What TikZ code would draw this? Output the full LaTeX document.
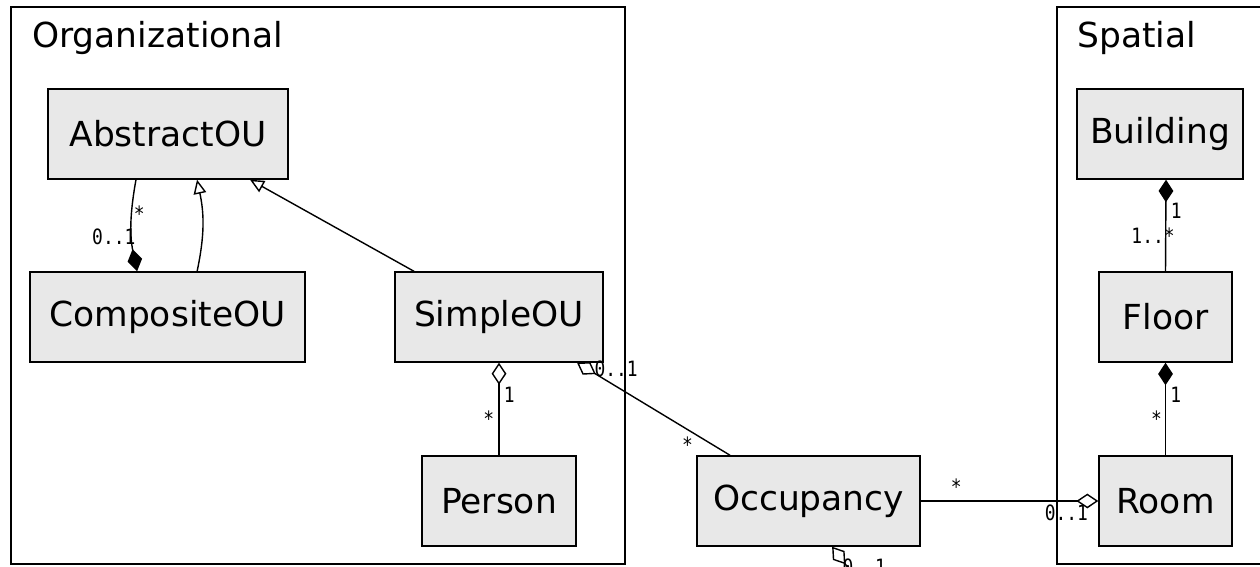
\documentclass[tikz,border=0pt]{standalone}
\usepackage{fontspec}
\setmainfont{DejaVu Sans}
\newfontfamily\multfont[FakeStretch=0.85]{DejaVu Sans Mono}
\definecolor{class-fill}{HTML}{E8E8E8}
\usetikzlibrary{arrows.meta,positioning}

\begin{document}
\begin{tikzpicture}[x=0.025cm, y=-0.025cm,
  cls/.style={rectangle, draw=black, fill=class-fill, line width=1pt,
              minimum height=2.25cm, inner sep=0pt, font=\fontsize{24.5}{29}\selectfont},
  pkg/.style={draw=black, line width=1pt},
  pkgname/.style={anchor=base west, inner sep=0pt, font=\fontsize{24.5}{29}\selectfont},
  mult/.style={inner sep=1pt, font=\multfont\fontsize{15}{17}\selectfont},
  assoc/.style={line width=1pt},
  compo/.style={assoc, {Diamond[length=16pt, width=10.5pt]}-},
  aggr/.style={assoc, {Diamond[open, length=15.6pt, width=10.5pt]}-},
  gen/.style={assoc, -{Triangle[open, length=10pt, width=9pt]}}]

  \useasboundingbox (0,0) rectangle (1260,566);
  \clip (0,0) rectangle (1260,566);

  % packages
  \draw[pkg] (11,7) rectangle (625,564);
  \draw[pkg] (1057,7) rectangle (1300,564);
  \node[pkgname] (orgname) at (32,47) {Organizational};
  \node[pkgname] (spatname) at (1077,47) {Spatial};

  % classes
  \node[cls, minimum width=6cm]    (abstract)  at (168,134)   {AbstractOU};
  \node[cls, minimum width=6.875cm] (composite) at (167.5,317) {CompositeOU};
  \node[cls, minimum width=5.2cm]  (simple)    at (499,317)   {SimpleOU};
  \node[cls, minimum width=3.85cm] (person)    at (499,501)   {Person};
  \node[cls, minimum width=5.575cm] (occupancy) at (808.5,501) {Occupancy};
  \node[cls, minimum width=4.15cm] (building)  at (1160,134)  {Building};
  \node[cls, minimum width=3.325cm] (floor)    at (1165.5,317) {Floor};
  \node[cls, minimum width=3.325cm] (room)     at (1165.5,501) {Room};
  \coordinate (offpage) at (880,610);

  % organizational
  \draw[compo] ([xshift=-0.76cm]composite.north) to[bend left=11]
    node[mult, pos=0.37, anchor=east, xshift=4pt] {0..1}
    node[mult, pos=0.64, anchor=west] {*}
    ([xshift=-0.8cm]abstract.south);
  \draw[gen] ([xshift=0.74cm]composite.north) to[bend right=12] ([xshift=0.725cm]abstract.south);
  \draw[gen] ([xshift=-2.125cm]simple.north) -- ([xshift=2.05cm]abstract.south);
  \draw[aggr] (simple.south) --
    node[mult, pos=0.35, anchor=west, xshift=2pt] {1}
    node[mult, pos=0.6, anchor=east, xshift=-2pt] {*}
    (person.north);

  % occupancy
  \draw[aggr] ([xshift=1.95cm]simple.south) --
    node[mult, at start, anchor=west, xshift=11pt, yshift=-4pt] {0..1}
    node[mult, pos=0.78, anchor=north east, xshift=-1pt] {*}
    ([xshift=-1.96cm]occupancy.north);
  \draw[aggr] (room.west) --
    node[mult, pos=0.18, below=1pt] {0..1}
    node[mult, pos=0.8, above=3pt] {*}
    (occupancy.east);
  \draw[aggr] ([xshift=0.59cm]occupancy.south) --
    node[mult, at start, anchor=north west, xshift=6pt, yshift=-7pt] {0..1}
    (offpage);

  % spatial
  \draw[compo] ([xshift=0.15cm]building.south) --
    node[mult, pos=0.34, anchor=west, xshift=2pt] {1}
    node[mult, pos=0.61, xshift=-9pt] {1..*}
    (floor.north);
  \draw[compo] (floor.south) --
    node[mult, pos=0.35, anchor=west, xshift=2pt] {1}
    node[mult, pos=0.6, anchor=east, xshift=-1pt] {*}
    (room.north);
\end{tikzpicture}
\end{document}
